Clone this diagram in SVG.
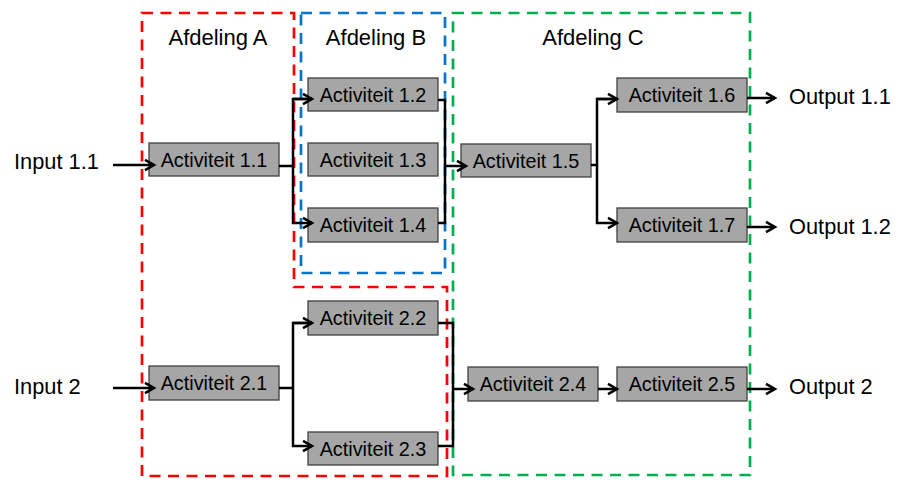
<svg xmlns="http://www.w3.org/2000/svg" width="899" height="498" viewBox="0 0 899 498">
<style>
.dept{fill:none;stroke-width:2.7;stroke-dasharray:11 7.5}
.box rect{fill:#a6a6a6;stroke:#404040;stroke-width:1.3}
.box text{font-family:"Liberation Sans",Arial,sans-serif;font-size:19.8px;fill:#000;text-anchor:middle}
.lbl{font-family:"Liberation Sans",Arial,sans-serif;font-size:21.8px;fill:#000}
.title{font-family:"Liberation Sans",Arial,sans-serif;font-size:22px;fill:#000;text-anchor:middle}
.c path{fill:none;stroke:#000;stroke-width:2.5}
.c .a{marker-end:url(#arr)}
</style>
<defs>
<marker id="arr" markerUnits="userSpaceOnUse" markerWidth="14" markerHeight="14" viewBox="0 0 14 14" refX="11" refY="7" orient="auto" overflow="visible">
<path d="M2,1.8 L11,7 L2,12.2" fill="none" stroke="#000" stroke-width="2.5"/>
</marker>
</defs>
<rect width="899" height="498" fill="#fff"/>
<g id="afdeling-a">
<path class="dept" stroke="#ff0000" d="M142,13 H294 V287 H447 V476 H142 Z"/>
<text class="title" x="218" y="45">Afdeling A</text>
</g>
<g id="afdeling-b">
<rect class="dept" stroke="#0a74c8" x="301" y="13" width="144" height="260"/>
<text class="title" x="376" y="45">Afdeling B</text>
</g>
<g id="afdeling-c">
<rect class="dept" stroke="#00b050" x="453" y="13" width="297" height="462"/>
<text class="title" x="593" y="45">Afdeling C</text>
</g>
<g id="input-1-1"><text class="lbl" x="14" y="169">Input 1.1</text></g>
<g id="input-2"><text class="lbl" x="14" y="394">Input 2</text></g>
<g id="output-1-1"><text class="lbl" x="789" y="104">Output 1.1</text></g>
<g id="output-1-2"><text class="lbl" x="789" y="234">Output 1.2</text></g>
<g id="output-2"><text class="lbl" x="789" y="394">Output 2</text></g>
<g id="act-1-1" class="box"><rect x="149" y="143" width="130" height="33"/><text x="214" y="166.5">Activiteit 1.1</text></g>
<g id="act-1-2" class="box"><rect x="308" y="78" width="130" height="33"/><text x="373" y="101.5">Activiteit 1.2</text></g>
<g id="act-1-3" class="box"><rect x="308" y="143" width="130" height="33"/><text x="373" y="166.5">Activiteit 1.3</text></g>
<g id="act-1-4" class="box"><rect x="308" y="208" width="130" height="34"/><text x="373" y="232">Activiteit 1.4</text></g>
<g id="act-1-5" class="box"><rect x="461" y="144" width="130" height="33"/><text x="526" y="167.5">Activiteit 1.5</text></g>
<g id="act-1-6" class="box"><rect x="617" y="78" width="130" height="34"/><text x="682" y="102">Activiteit 1.6</text></g>
<g id="act-1-7" class="box"><rect x="617" y="208" width="130" height="34"/><text x="682" y="232">Activiteit 1.7</text></g>
<g id="act-2-1" class="box"><rect x="149" y="366" width="130" height="34"/><text x="214" y="390">Activiteit 2.1</text></g>
<g id="act-2-2" class="box"><rect x="308" y="301" width="130" height="34"/><text x="373" y="325">Activiteit 2.2</text></g>
<g id="act-2-3" class="box"><rect x="308" y="432" width="130" height="33"/><text x="373" y="455.5">Activiteit 2.3</text></g>
<g id="act-2-4" class="box"><rect x="468" y="367" width="130" height="34"/><text x="533" y="391">Activiteit 2.4</text></g>
<g id="act-2-5" class="box"><rect x="617" y="367" width="130" height="34"/><text x="682" y="391">Activiteit 2.5</text></g>
<g id="connectors" class="c">
<path class="a" d="M113,165 H154"/>
<path d="M279,166 H293"/>
<path class="a" d="M312,99 H293 V223 H312"/>
<path class="a" d="M293,99 H312"/>
<path d="M438,100 H445 V223 H438"/>
<path class="a" d="M445,166 H466"/>
<path d="M591,165 H597"/>
<path class="a" d="M617,99 H597 V223 H617"/>
<path class="a" d="M597,99 H617"/>
<path class="a" d="M747,98 H775"/>
<path class="a" d="M747,227 H775"/>
<path class="a" d="M113,388 H154"/>
<path d="M279,388 H293"/>
<path class="a" d="M312,323 H293 V446 H312"/>
<path class="a" d="M293,323 H312"/>
<path d="M438,323 H453 V446 H438"/>
<path class="a" d="M453,389 H473"/>
<path class="a" d="M598,389 H617"/>
<path class="a" d="M747,389 H775"/>
</g>
</svg>
